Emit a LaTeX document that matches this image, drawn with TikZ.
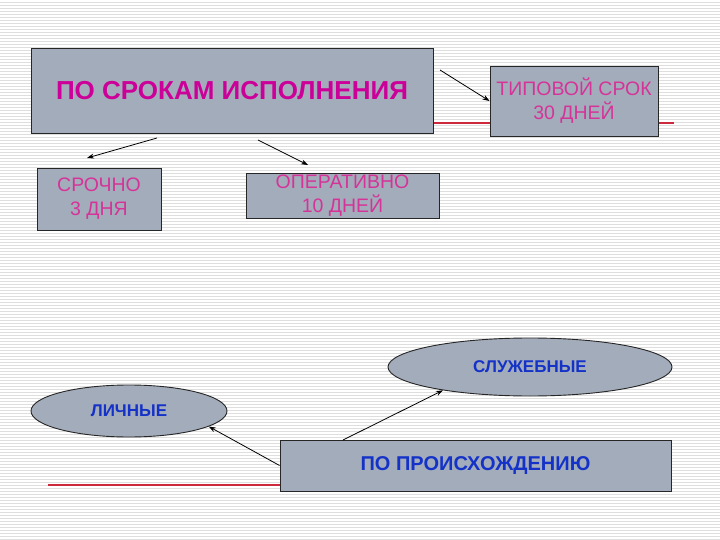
\documentclass[tikz,border=0pt]{standalone}
\usepackage{fontspec}
\setmainfont{Liberation Sans}
\usetikzlibrary{shapes.geometric,arrows.meta}
\definecolor{boxfill}{RGB}{163,172,186}
\definecolor{mag}{RGB}{204,0,153}
\definecolor{pinktxt}{RGB}{214,51,153}
\definecolor{blu}{RGB}{20,50,200}
\definecolor{stripe}{RGB}{222,222,222}
\definecolor{redline}{RGB}{205,40,60}
\begin{document}
\begin{tikzpicture}[x=1pt,y=-1pt,
  box/.style={draw=black!85, line width=0.9pt, fill=boxfill, rectangle, inner sep=0pt, align=center},
  oval/.style={draw=black!85, line width=0.9pt, fill=boxfill, ellipse, inner sep=0pt, align=center},
  arr/.style={-{Stealth[length=7pt,width=5pt]}, line width=0.8pt, black},
  pinkt/.style={text=pinktxt, font=\fontsize{19.5}{24}\selectfont},
  bluet/.style={text=blu, font=\fontsize{17}{20}\selectfont\bfseries},
  rline/.style={redline, line width=1.1pt}
]
\useasboundingbox (0,0) rectangle (720,540);
\fill[white] (0,0) rectangle (720,540);
\foreach \yy in {2,5,...,539} \draw[stripe, line width=0.8pt] (0,\yy) -- (720,\yy);
% red lines
\draw[rline] (433,123) -- (674,123);
\draw[rline] (48,485) -- (280,485);
% top group
\node[box, minimum width=402pt, minimum height=85pt, text=mag,
      font=\fontsize{26}{30}\selectfont\bfseries] (srok) at (232,90.5) {ПО СРОКАМ ИСПОЛНЕНИЯ};
\node[box, pinkt, minimum width=168pt, minimum height=70pt] (tip) at (574,101) {ТИПОВОЙ СРОК\\30 ДНЕЙ};
\node[box, pinkt, minimum width=124pt, minimum height=62pt] (sroch) at (99,199) {СРОЧНО\\3 ДНЯ};
\node[box, pinkt, minimum width=193pt, minimum height=45pt] (oper) at (342.5,195.5) {ОПЕРАТИВНО\\10 ДНЕЙ};
\coordinate (a1s) at (440,70);
\coordinate (a2s) at (157,138);
\coordinate (a2e) at (87,158);
\coordinate (a3s) at (258,140);
\coordinate (a3e) at (308,165);
\draw[arr] (a1s) -- (tip.west);
\draw[arr] (a2s) -- (a2e);
\draw[arr] (a3s) -- (a3e);
% bottom group
\node[oval, bluet, minimum width=284pt, minimum height=58pt] (sluzh) at (530,367) {СЛУЖЕБНЫЕ};
\node[oval, bluet, minimum width=196pt, minimum height=52pt] (lich) at (129,411) {ЛИЧНЫЕ};
\node[box, text=blu, font=\fontsize{20}{24}\selectfont\bfseries,
      minimum width=391pt, minimum height=51pt] (proish) at (475.5,465.5) {ПО ПРОИСХОЖДЕНИЮ};
\coordinate (b1s) at (343,440);
\draw[arr] (b1s) -- (sluzh.195);
\draw[arr] (proish.west) -- (lich.349);
\end{tikzpicture}
\end{document}
